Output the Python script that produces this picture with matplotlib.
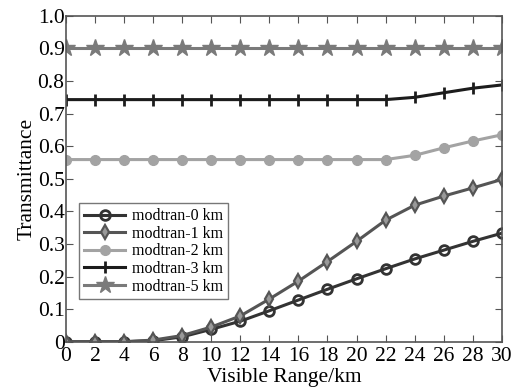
import matplotlib
matplotlib.use('Agg')
import matplotlib.pyplot as plt
from matplotlib.ticker import MultipleLocator

plt.rcParams['font.family'] = ['Liberation Serif', 'DejaVu Serif']

# visible range (km) and transmittance for each modtran altitude
visible_range = [0, 2, 4, 6, 8, 10, 12, 14, 16, 18, 20, 22, 24, 26, 28, 30]
modtran_0km = [0, 0, 0, 0.003, 0.015, 0.038, 0.063, 0.095, 0.128, 0.161, 0.193, 0.224, 0.254, 0.281, 0.308, 0.333]
modtran_1km = [0, 0, 0, 0.005, 0.019, 0.045, 0.079, 0.131, 0.186, 0.246, 0.308, 0.373, 0.419, 0.447, 0.472, 0.498]
modtran_2km = [0.559] * 12 + [0.572, 0.595, 0.616, 0.635]
modtran_3km = [0.743] * 12 + [0.750, 0.764, 0.778, 0.788]
modtran_5km = [0.9] * 16

fig = plt.figure(figsize=(5.19, 3.87), dpi=100)
ax = fig.add_axes([0.127, 0.117, 0.840, 0.842])

ax.plot(visible_range, modtran_0km, color='#333333', lw=2.2, marker='o', ms=7,
        mfc='none', mew=2, label='modtran-0 km')
ax.plot(visible_range, modtran_1km, color='#555555', lw=2.2, marker='d', ms=7.5,
        mfc='#999999', mew=1.6, label='modtran-1 km')
ax.plot(visible_range, modtran_2km, color='#a3a3a3', lw=2.2, marker='o', ms=7,
        label='modtran-2 km')
ax.plot(visible_range, modtran_3km, color='#1c1c1c', lw=2.2, marker='|', ms=8,
        mew=2, label='modtran-3 km')
ax.plot(visible_range, modtran_5km, color='#7a7a7a', lw=2.2, marker='*', ms=13,
        label='modtran-5 km')

ax.set_xlim(0, 30)
ax.set_ylim(0, 1.0)
ax.xaxis.set_major_locator(MultipleLocator(2))
ax.set_yticks([0, 0.1, 0.2, 0.3, 0.4, 0.5, 0.6, 0.7, 0.8, 0.9, 1.0])
ax.set_yticklabels(['0', '0.1', '0.2', '0.3', '0.4', '0.5', '0.6', '0.7', '0.8', '0.9', '1.0'])
ax.tick_params(direction='in', top=True, right=True, labelsize=15.5, length=5,
               color='#555555')
ax.tick_params(axis='y', pad=1)
ax.tick_params(axis='x', pad=4)
for s in ax.spines.values():
    s.set_color('#555555')
    s.set_linewidth(1.2)

ax.set_xlabel('Visible Range/km', fontsize=15.5, labelpad=1)
ax.set_ylabel('Transmittance', fontsize=15.5, labelpad=1)

leg = ax.legend(loc='lower left', bbox_to_anchor=(0.03, 0.13), fontsize=11.5,
                frameon=True, fancybox=False, borderpad=0.3, labelspacing=0.1,
                handlelength=2.6, handletextpad=0.4, borderaxespad=0)
leg.get_frame().set_edgecolor('#555555')
leg.get_frame().set_linewidth(1.0)

plt.savefig('out.png', dpi=100)
